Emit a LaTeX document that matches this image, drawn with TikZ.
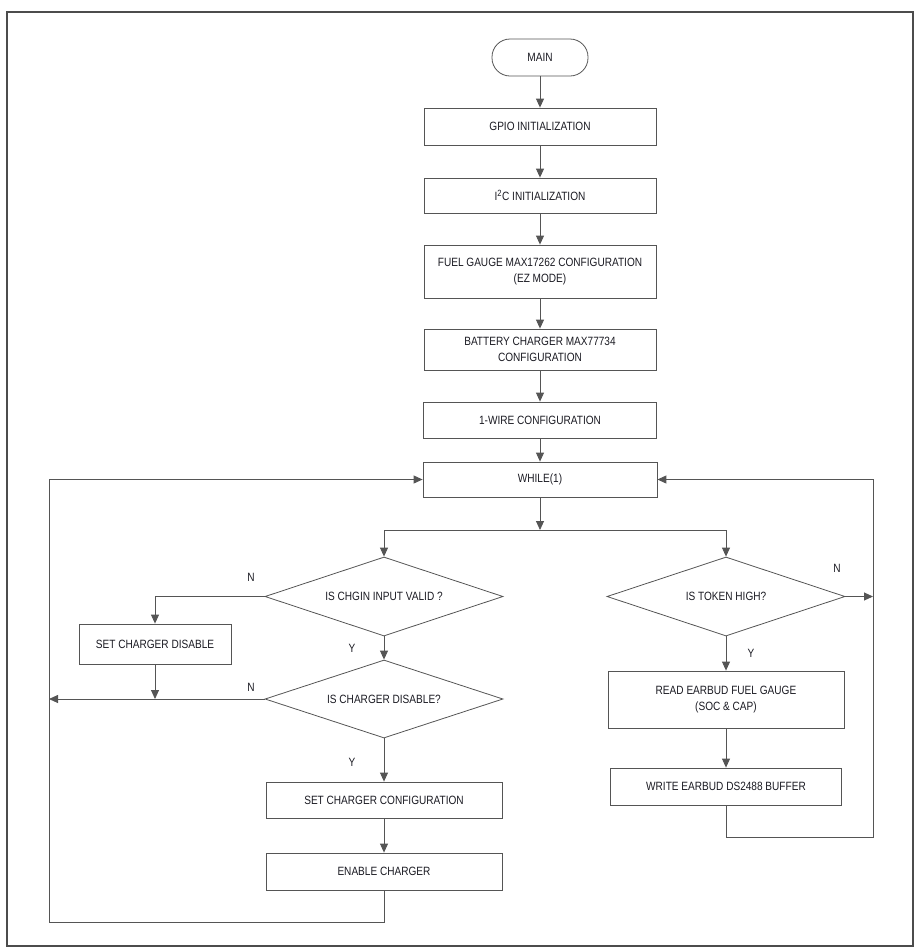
\documentclass[tikz,border=0pt]{standalone}
\usepackage{fontspec}
\setmainfont{Liberation Sans}[FakeStretch=0.84]
\usetikzlibrary{shapes.geometric,arrows.meta}
\definecolor{lncol}{HTML}{555555}
\definecolor{txcol}{HTML}{1A1A22}
\begin{document}
\begin{tikzpicture}[x=1pt,y=-1pt,
  every node/.style={font=\fontsize{12}{15.5}\selectfont, text=txcol, inner sep=0pt},
  procbox/.style={draw=lncol, line width=0.8pt, rectangle, align=center},
  decbox/.style={draw=lncol, line width=0.8pt, diamond, aspect=3, align=center},
  lbl/.style={font=\fontsize{12}{14}\selectfont},
  conn/.style={draw=lncol, line width=0.9pt},
  arr/.style={conn, -{Triangle[length=9pt,width=8pt]}}
]
\useasboundingbox (0,0) rectangle (921,951);
\draw[line width=1.6pt, draw=black!70] (7,12) rectangle (913,946);

\node[draw=lncol, line width=0.8pt, rounded corners=18pt, minimum width=96pt, minimum height=37pt] (main) at (540,57.5) {MAIN};
\node[procbox, minimum width=232pt, minimum height=37pt] (gpio) at (540,126.5) {GPIO INITIALIZATION};
\node[procbox, minimum width=232pt, minimum height=35pt] (i2c) at (540,195.5) {I\textsuperscript{\fontsize{9}{9}\selectfont 2}C INITIALIZATION};
\node[procbox, minimum width=232pt, minimum height=53pt] (fuel) at (540,271.5) {FUEL GAUGE MAX17262 CONFIGURATION\\(EZ MODE)};
\node[procbox, minimum width=232pt, minimum height=41pt] (batt) at (540,349.5) {BATTERY CHARGER MAX77734\\CONFIGURATION};
\node[procbox, minimum width=233pt, minimum height=36pt] (wire) at (540,420) {1-WIRE CONFIGURATION};
\node[procbox, minimum width=234pt, minimum height=35pt] (while) at (540,479.5) {WHILE(1)};

\node[decbox, minimum width=238pt, minimum height=79pt] (chgin) at (384,596.5) {IS CHGIN INPUT VALID ?};
\node[decbox, minimum width=238pt, minimum height=78pt] (chgdis) at (384,699) {IS CHARGER DISABLE?};
\node[procbox, minimum width=152pt, minimum height=40pt] (setdis) at (155,644) {SET CHARGER DISABLE};
\node[procbox, minimum width=236pt, minimum height=36pt] (setcfg) at (384,800) {SET CHARGER CONFIGURATION};
\node[procbox, minimum width=236pt, minimum height=37pt] (enable) at (384,871.5) {ENABLE CHARGER};

\node[decbox, minimum width=238pt, minimum height=79pt] (token) at (726,596.5) {IS TOKEN HIGH?};
\node[procbox, minimum width=236pt, minimum height=57pt] (read) at (726,699.5) {READ EARBUD FUEL GAUGE\\(SOC \& CAP)};
\node[procbox, minimum width=231pt, minimum height=37pt] (write) at (726,786.5) {WRITE EARBUD DS2488 BUFFER};

\node[lbl] (n1) at (251,577) {N};
\node[lbl] (n2) at (251,687) {N};
\node[lbl] (y1) at (352,648) {Y};
\node[lbl] (y2) at (352,762) {Y};
\node[lbl] (n3) at (837,568) {N};
\node[lbl] (y3) at (751,653) {Y};

\coordinate (split) at (540,530);
\coordinate (splitL) at (384,530);
\coordinate (splitR) at (726,530);
\coordinate (leftjoin) at (155,699);
\coordinate (leftend) at (49,699);
\coordinate (lb1) at (384,922);
\coordinate (lb2) at (49,922);
\coordinate (lb3) at (49,479.5);
\coordinate (rightend) at (873,596.5);
\coordinate (rb1) at (726,837);
\coordinate (rb2) at (873,837);
\coordinate (rb3) at (873,479.5);
\coordinate (dis1) at (155,596.5);

\draw[arr] (main) -- (gpio);
\draw[arr] (gpio) -- (i2c);
\draw[arr] (i2c) -- (fuel);
\draw[arr] (fuel) -- (batt);
\draw[arr] (batt) -- (wire);
\draw[arr] (wire) -- (while);
\draw[arr] (while) -- (split);
\draw[conn] (splitL) -- (splitR);
\draw[arr] (splitL) -- (chgin.north);
\draw[arr] (splitR) -- (token.north);

\draw[arr] (chgin.west) -- (dis1) -- (setdis.north);
\draw[arr] (chgin.south) -- (chgdis.north);
\draw[arr] (setdis.south) -- (leftjoin);
\draw[arr] (chgdis.west) -- (leftend);
\draw[arr] (chgdis.south) -- (setcfg.north);
\draw[arr] (setcfg) -- (enable);
\draw[arr] (enable.south) -- (lb1) -- (lb2) -- (lb3) -- (while.west);

\draw[arr] (token.east) -- (rightend);
\draw[arr] (token.south) -- (read.north);
\draw[arr] (read) -- (write);
\draw[arr] (write.south) -- (rb1) -- (rb2) -- (rb3) -- (while.east);
\end{tikzpicture}
\end{document}
